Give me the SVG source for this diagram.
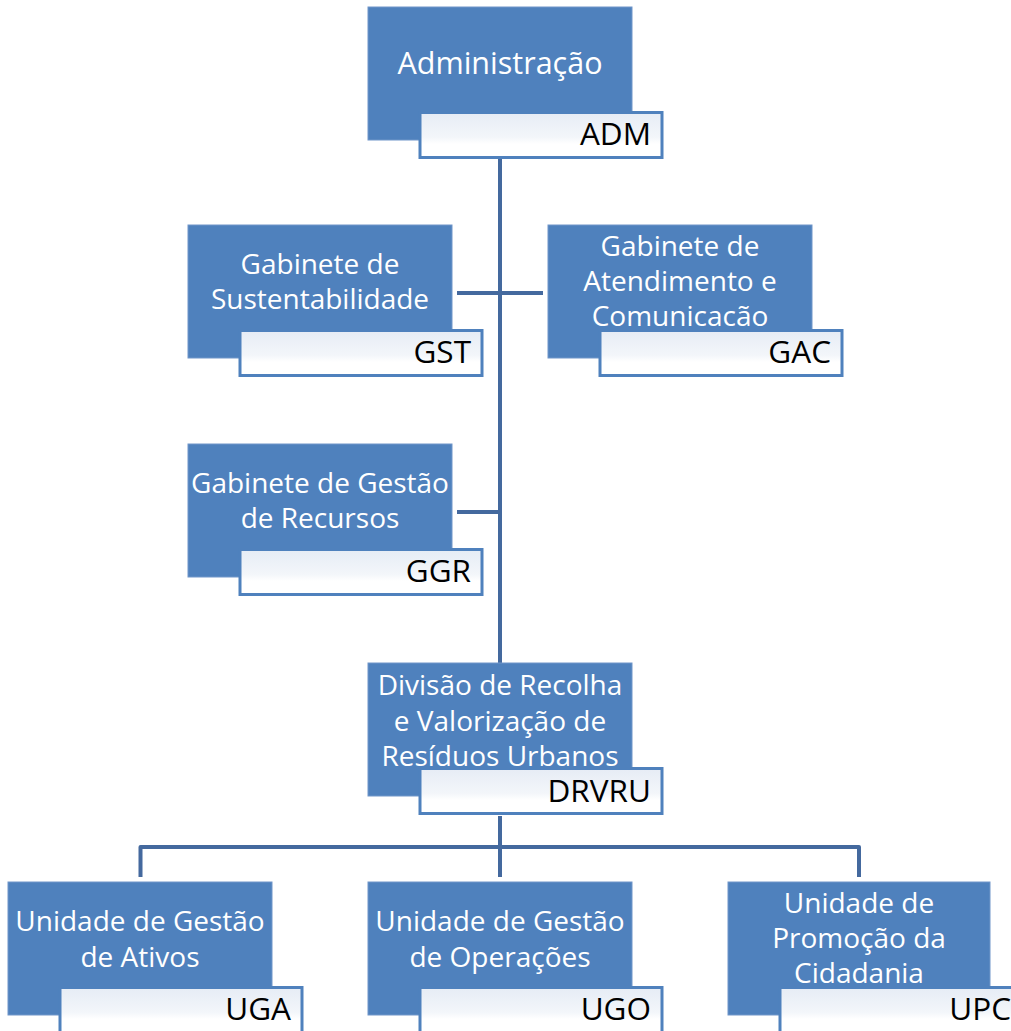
<svg xmlns="http://www.w3.org/2000/svg" width="1011" height="1031" viewBox="0 0 1011 1031">
<defs>
<linearGradient id="lg" x1="0" y1="0" x2="0" y2="1">
<stop offset="0" stop-color="#E6ECF5"/>
<stop offset="0.55" stop-color="#F3F6FA"/>
<stop offset="0.7" stop-color="#FFFFFF"/>
<stop offset="1" stop-color="#FFFFFF"/>
</linearGradient>
<style>
.box{fill:#4F81BD;stroke:#7096C9;stroke-width:1}
.lab{fill:url(#lg);stroke:#4F81BD;stroke-width:3}
.t{font-family:"Open Sans","Liberation Sans",sans-serif;font-size:28px;fill:#FFFFFF;text-anchor:middle}
.c{font-family:"Open Sans","Liberation Sans",sans-serif;font-size:31.5px;fill:#000000;text-anchor:end}
.con{fill:none;stroke:#44699E;stroke-width:4;stroke-linejoin:round}
</style>
</defs>
<rect width="1011" height="1031" fill="#FFFFFF"/>
<g id="connectors">
<path class="con" d="M500,158 V663"/>
<path class="con" d="M457,293 H543"/>
<path class="con" d="M457,512 H500"/>
<path class="con" d="M500,816 V877"/>
<path class="con" d="M140.5,877 V847 H859 V877"/>
</g>
<g id="ADM">
<rect class="box" x="368" y="7" width="264" height="133"/>
<text class="t" x="500" y="74" style="font-size:30.5px">Administração</text>
<rect class="lab" x="420" y="112.5" width="242" height="45"/>
<text class="c" x="651" y="145">ADM</text>
</g>
<g id="GST">
<rect class="box" x="188" y="225" width="264" height="133"/>
<text class="t" x="320" y="274">Gabinete de</text>
<text class="t" x="320" y="309">Sustentabilidade</text>
<rect class="lab" x="240" y="330.5" width="242" height="45"/>
<text class="c" x="471" y="363">GST</text>
</g>
<g id="GAC">
<rect class="box" x="548" y="225" width="264" height="133"/>
<text class="t" x="680" y="256">Gabinete de</text>
<text class="t" x="680" y="291">Atendimento e</text>
<text class="t" x="680" y="326">Comunicacão</text>
<rect class="lab" x="600" y="330.5" width="242" height="45"/>
<text class="c" x="831" y="363">GAC</text>
</g>
<g id="GGR">
<rect class="box" x="188" y="444" width="264" height="133"/>
<text class="t" x="320" y="493">Gabinete de Gestão</text>
<text class="t" x="320" y="528">de Recursos</text>
<rect class="lab" x="240" y="549.5" width="242" height="45"/>
<text class="c" x="471" y="582">GGR</text>
</g>
<g id="DRVRU">
<rect class="box" x="368" y="663" width="264" height="133"/>
<text class="t" x="500" y="695">Divisão de Recolha</text>
<text class="t" x="500" y="731">e Valorização de</text>
<text class="t" x="500" y="766">Resíduos Urbanos</text>
<rect class="lab" x="420" y="768.5" width="242" height="45"/>
<text class="c" x="651" y="802">DRVRU</text>
</g>
<g id="UGA">
<rect class="box" x="8" y="882" width="264" height="133"/>
<text class="t" x="140" y="931">Unidade de Gestão</text>
<text class="t" x="140" y="967">de Ativos</text>
<rect class="lab" x="60" y="987.5" width="242" height="45"/>
<text class="c" x="291" y="1020">UGA</text>
</g>
<g id="UGO">
<rect class="box" x="368" y="882" width="264" height="133"/>
<text class="t" x="500" y="931">Unidade de Gestão</text>
<text class="t" x="500" y="967">de Operações</text>
<rect class="lab" x="420" y="987.5" width="242" height="45"/>
<text class="c" x="651" y="1020">UGO</text>
</g>
<g id="UPC">
<rect class="box" x="728" y="882" width="262" height="133"/>
<text class="t" x="859" y="913">Unidade de</text>
<text class="t" x="859" y="948">Promoção da</text>
<text class="t" x="859" y="983">Cidadania</text>
<rect class="lab" x="780" y="987.5" width="242" height="45"/>
<text class="c" x="1011" y="1020">UPC</text>
</g>
</svg>
